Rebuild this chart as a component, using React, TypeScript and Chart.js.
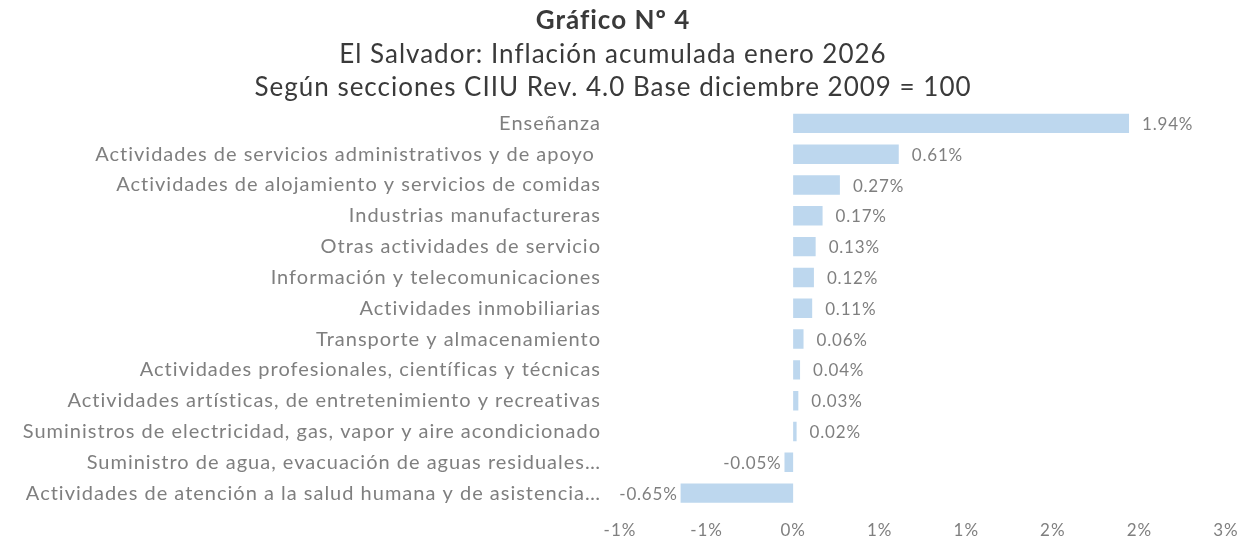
import React, { useEffect, useRef } from "react";
import { Chart, registerables } from "chart.js";

Chart.register(...registerables);

const titleText = "Gráfico Nº 4";
const subtitleLines = [
  "El Salvador: Inflación acumulada enero 2026",
  "Según secciones CIIU Rev. 4.0 Base diciembre 2009 = 100",
];

const categories = [
  "Enseñanza",
  "Actividades de servicios administrativos y de apoyo ",
  "Actividades de alojamiento y servicios de comidas",
  "Industrias manufactureras",
  "Otras actividades de servicio",
  "Información y telecomunicaciones",
  "Actividades inmobiliarias",
  "Transporte y almacenamiento",
  "Actividades profesionales, científicas y técnicas",
  "Actividades artísticas, de entretenimiento y recreativas",
  "Suministros de electricidad, gas, vapor y aire acondicionado",
  "Suministro de agua, evacuación de aguas residuales…",
  "Actividades de atención a la salud humana y de asistencia…",
];

const values = [1.94, 0.61, 0.27, 0.17, 0.13, 0.12, 0.11, 0.06, 0.04, 0.03, 0.02, -0.05, -0.65];

const xTickLabels = ["-1%", "-1%", "0%", "1%", "1%", "2%", "2%", "3%"];

const FONT = "Lato, 'Open Sans', sans-serif";
const GRAY = "#7f7f7f";
const TITLE = "#3a3a3a";
const BAR = "#bdd7ee";

const spacingPlugin = {
  id: "letterSpacing",
  beforeDraw(chart: any) {
    chart.ctx.letterSpacing = "1px";
  },
};

const dataLabelPlugin = {
  id: "dataLabels",
  afterDatasetsDraw(chart: any) {
    const ctx = chart.ctx;
    const meta = chart.getDatasetMeta(0);
    ctx.save();
    ctx.letterSpacing = "0.8px";
    ctx.font = `17px ${FONT}`;
    ctx.fillStyle = GRAY;
    ctx.textBaseline = "middle";
    meta.data.forEach((el: any, i: number) => {
      const v = values[i];
      const txt = v.toFixed(2) + "%";
      if (v >= 0) {
        ctx.textAlign = "left";
        ctx.fillText(txt, el.x + 13, el.y + 1);
      } else {
        ctx.textAlign = "right";
        ctx.fillText(txt, el.x - 3, el.y + 1);
      }
    });
    ctx.restore();
  },
};

export default function App() {
  const ref = useRef<HTMLCanvasElement | null>(null);
  useEffect(() => {
    if (!ref.current) return;
    const chart = new Chart(ref.current, {
      type: "bar",
      data: {
        labels: categories,
        datasets: [
          {
            data: values,
            backgroundColor: BAR,
            borderWidth: 0,
            categoryPercentage: 1,
            barPercentage: 0.63,
          },
        ],
      },
      options: {
        indexAxis: "y",
        animation: false,
        responsive: false,
        layout: { padding: { left: 0, right: 24, top: 0, bottom: 0 } },
        plugins: {
          legend: { display: false },
          tooltip: { enabled: false },
          title: {
            display: true,
            text: titleText,
            color: TITLE,
            font: { family: FONT, size: 26, weight: "bold", lineHeight: "33px" },
            padding: { top: 4, bottom: 1 },
          },
          subtitle: {
            display: true,
            text: subtitleLines,
            color: TITLE,
            font: { family: FONT, size: 26, weight: "normal", lineHeight: "33px" },
            padding: { top: 0, bottom: 4 },
          },
        },
        scales: {
          x: {
            min: -1,
            max: 2.5,
            grid: { display: false, drawTicks: false },
            border: { display: false },
            ticks: {
              stepSize: 0.5,
              autoSkip: false,
              maxRotation: 0,
              padding: 12,
              color: GRAY,
              font: { family: FONT, size: 17 },
              callback: (_v: any, i: number) => xTickLabels[i],
            },
            afterFit: (scale: any) => {
              scale.height = 32.5;
            },
          },
          y: {
            grid: { display: false, drawTicks: false },
            border: { display: false },
            ticks: {
              padding: 19,
              autoSkip: false,
              color: GRAY,
              font: { family: FONT, size: 20 },
            },
            afterFit: (scale: any) => {
              scale.width = 620;
              scale.paddingTop = 0;
              scale.paddingBottom = 0;
            },
          },
        },
      },
      plugins: [spacingPlugin, dataLabelPlugin],
    });
    return () => chart.destroy();
  }, []);
  return (
    <div style={{ position: "fixed", left: 0, top: 0, width: 1250, height: 541, background: "#fff" }}>
      <canvas ref={ref} width={1250} height={541} style={{ display: "block" }} />
    </div>
  );
}
